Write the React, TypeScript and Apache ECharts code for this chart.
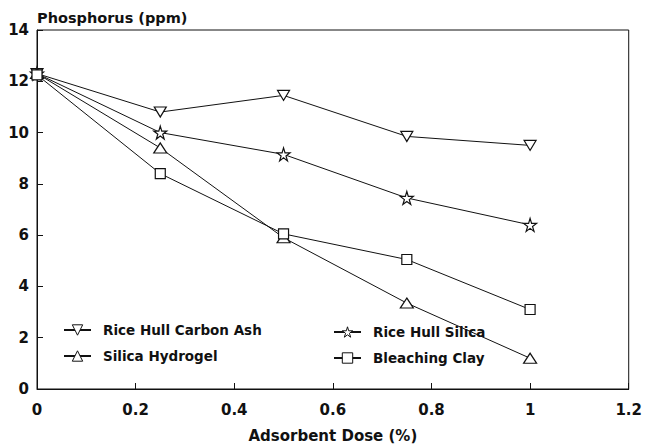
import React, { useEffect, useRef } from "react";
import * as echarts from "echarts";

const doses = [0, 0.25, 0.5, 0.75, 1];
const carbonAsh = [12.3, 10.8, 11.45, 9.85, 9.5];
const hullSilica = [12.3, 10.0, 9.15, 7.45, 6.4];
const hydrogel = [12.3, 9.4, 5.9, 3.35, 1.2];
const bleachingClay = [12.25, 8.4, 6.05, 5.05, 3.1];
const seriesNames = ["Rice Hull Carbon Ash", "Rice Hull Silica", "Silica Hydrogel", "Bleaching Clay"];

const FONT = "DejaVu Sans";
const INK = "#111";

const STAR = "path://M50,0 L61,35 L98,35 L68,57 L79,91 L50,70 L21,91 L32,57 L2,35 L39,35 Z";
const DOWN_TRI = "path://M0,0 L10,0 L5,9 Z";

export default function App() {
  const ref = useRef<HTMLDivElement>(null);
  useEffect(() => {
    if (!ref.current) return;
    const chart = echarts.init(ref.current, undefined, { renderer: "svg" });
    const pair = (ys: number[]) => doses.map((x, i) => [x, ys[i]]);
    const mk = (name: string, ys: number[], symbol: string, size: any) => ({
      name,
      type: "line",
      data: pair(ys),
      symbol,
      symbolSize: size,
      showAllSymbol: true,
      lineStyle: { color: INK, width: 1 },
      itemStyle: { color: "#fff", borderColor: INK, borderWidth: 1.2 },
      emphasis: { disabled: true },
    });
    const legendBase = {
      orient: "vertical",
      padding: 0,
      itemWidth: 27,
      itemHeight: 13,
      itemGap: 12,
      itemStyle: { color: "#fff", borderColor: INK, borderWidth: 1 },
      textStyle: { fontFamily: FONT, fontSize: 13.5, fontWeight: "bold", color: INK, padding: [0, 0, 0, 7] },
      selectedMode: false,
    };
    chart.setOption({
      animation: false,
      backgroundColor: "#fff",
      grid: { left: 37, right: 13, top: 30, bottom: 48, show: true, borderColor: INK, borderWidth: 1 },
      legend: [
        { ...legendBase, data: [seriesNames[0], seriesNames[2]], left: 63, top: 323 },
        { ...legendBase, data: [seriesNames[1], seriesNames[3]], left: 333, top: 325 },
      ],
      xAxis: {
        type: "value",
        min: 0,
        max: 1.2,
        interval: 0.2,
        name: "Adsorbent Dose (%)",
        nameLocation: "middle",
        nameGap: 39,
        nameTextStyle: { fontFamily: FONT, fontSize: 15, fontWeight: "bold", color: INK },
        axisLine: { lineStyle: { color: INK, width: 1 } },
        axisTick: { inside: true, length: 6, lineStyle: { color: INK } },
        axisLabel: { fontFamily: FONT, fontSize: 15, fontWeight: "bold", color: INK, margin: 13 },
        splitLine: { show: false },
      },
      yAxis: {
        type: "value",
        min: 0,
        max: 14,
        interval: 2,
        name: "Phosphorus (ppm)",
        nameLocation: "end",
        nameGap: 12,
        nameTextStyle: { fontFamily: FONT, fontSize: 14.5, fontWeight: "bold", color: INK, align: "left", verticalAlign: "middle" },
        axisLine: { show: true, lineStyle: { color: INK, width: 1 } },
        axisTick: { show: true, inside: true, length: 6, lineStyle: { color: INK } },
        axisLabel: { fontFamily: FONT, fontSize: 15, fontWeight: "bold", color: INK, margin: 8 },
        splitLine: { show: false },
      },
      series: [
        mk(seriesNames[0], carbonAsh, DOWN_TRI, [12, 10]),
        mk(seriesNames[1], hullSilica, STAR, 13),
        mk(seriesNames[2], hydrogel, "triangle", [13, 10]),
        mk(seriesNames[3], bleachingClay, "rect", 10),
      ],
    });
    return () => chart.dispose();
  }, []);
  return <div ref={ref} style={{ position: "fixed", left: 0, top: 0, width: 645, height: 448 }} />;
}
